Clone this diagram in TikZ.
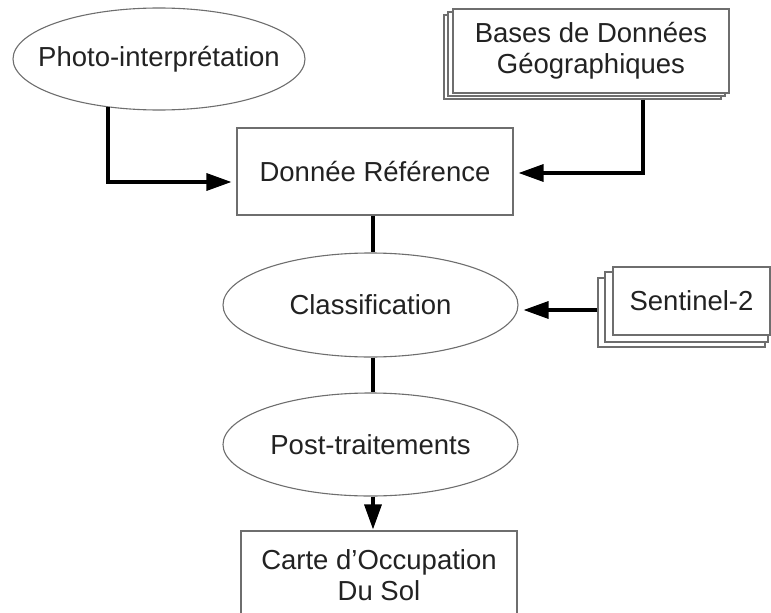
\documentclass[tikz,border=0pt]{standalone}
\usepackage{fontspec}
\setmainfont{Liberation Sans}
\usetikzlibrary{arrows.meta,calc,shapes.geometric}
\definecolor{boxline}{HTML}{6E6E6E}
\definecolor{txt}{HTML}{222222}
\tikzset{
  base/.style={draw=boxline, line width=1.1pt, fill=white, text=txt, inner sep=0pt,
    font=\fontsize{27.5}{31}\selectfont, align=center},
  boxnode/.style={base, rectangle},
  ellnode/.style={base, ellipse},
  layer/.style={draw=boxline, line width=1.1pt, fill=white},
  conn/.style={line width=3.3pt, black},
  arr/.style={conn, -{Triangle[length=25pt,width=17pt]}},
}
\begin{document}
\begin{tikzpicture}[x=1pt,y=-1pt]
\useasboundingbox (0,0) rectangle (771,613);
% nodes
\node[ellnode, minimum width=292pt, minimum height=102pt] (photo) at (159,59) {\makebox[0pt]{Photo-interprétation}};
% Bases de Donnees stack
\draw[layer] (444,15) rectangle (721,99);
\draw[layer] (448,12) rectangle (725,96);
\node[boxnode, minimum width=276pt, minimum height=84pt] (bases) at (591,51) {Bases de Données\\Géographiques};
\node[boxnode, minimum width=276pt, minimum height=87pt] (ref) at (375,171.5) {Donnée Référence};
\node[ellnode, minimum width=295pt, minimum height=104pt] (class) at (370.5,305) {Classification};
% Sentinel stack
\draw[layer] (598,278) rectangle (765,347);
\draw[layer] (605,272) rectangle (768,342);
\node[boxnode, minimum width=157pt, minimum height=68pt] (sent) at (691.5,301) {Sentinel-2};
\node[ellnode, minimum width=295pt, minimum height=103pt] (post) at (370.5,444.5) {Post-traitements};
\node[boxnode, minimum width=276pt, minimum height=88pt] (carte) at (379,575) {Carte d’Occupation\\Du Sol};
% helper coordinates
\coordinate (axis) at (373,0);
\coordinate (pstart) at ($(photo.center)+(-51,48)$);
\coordinate (bstart) at ($(bases.south)+(52,6)$);
\coordinate (sstart) at ($(sent.west)+(-15,9)$);
% connectors
\draw[arr, shorten >=5pt] (pstart) |- ($(ref.west)+(0,10.5)$);
\draw[arr, shorten >=5pt] (bstart) |- ($(ref.east)+(0,1.5)$);
\draw[conn] (ref.south -| axis) -- (class.north -| axis);
\draw[arr, shorten >=5pt] (sstart) -- (sstart -| class.east);
\draw[conn] (class.south -| axis) -- (post.north -| axis);
\draw[arr, shorten >=1pt] (post.south -| axis) -- (carte.north -| axis);
\end{tikzpicture}
\end{document}
